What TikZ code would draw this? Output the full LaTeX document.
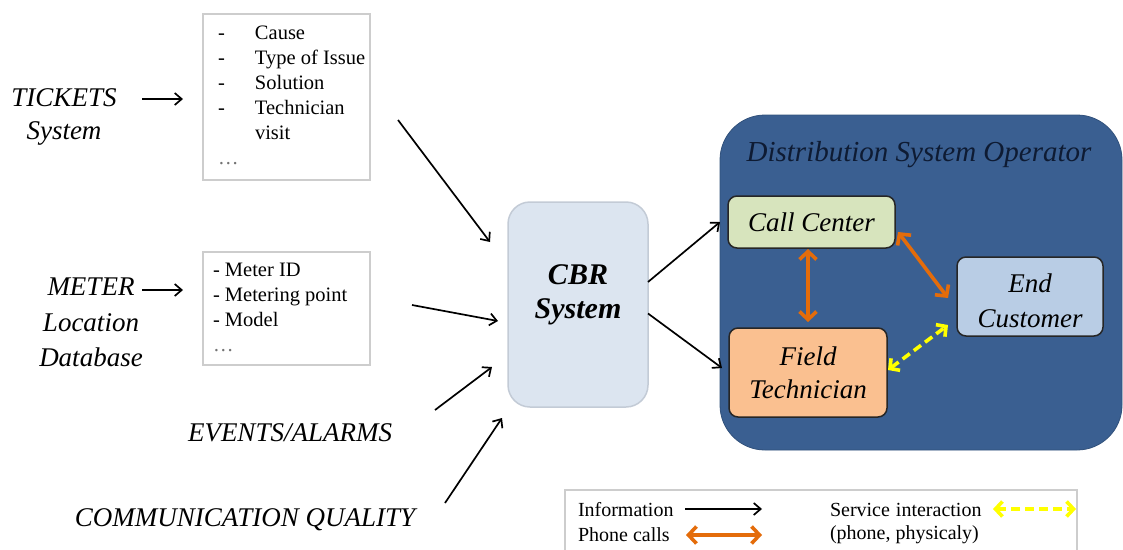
\documentclass[tikz,border=0pt]{standalone}
\usepackage{fontspec}
\setmainfont{Liberation Serif}
\usetikzlibrary{arrows.meta}

\definecolor{dsoblue}{HTML}{3A5F91}
\definecolor{dsotext}{HTML}{0E1B33}
\definecolor{cbrfill}{HTML}{DCE5F0}
\definecolor{cbrline}{HTML}{C3CBD6}
\definecolor{ccfill}{HTML}{D7E4BD}
\definecolor{ftfill}{HTML}{FAC090}
\definecolor{ecfill}{HTML}{B9CDE5}
\definecolor{phoneorange}{HTML}{E46C0A}
\definecolor{serviceyellow}{HTML}{FFFF00}
\definecolor{boxgray}{HTML}{CDCDCD}

\begin{document}
\begin{tikzpicture}[x=1pt,y=-1pt,
  every node/.style={inner sep=0pt, outer sep=0pt},
  listbox/.style={draw=boxgray, line width=2.2pt, fill=white, rectangle},
  listtext/.style={anchor=north west, font=\fontsize{20.5}{25}\selectfont},
  srclabel/.style={align=center, font=\fontsize{27}{33}\selectfont\itshape},
  info/.style={draw=black, line width=1.7pt, -{Straight Barb[length=7pt,width=12pt]}},
  phone/.style={draw=phoneorange, line width=3.6pt,
    {Straight Barb[length=8pt,width=17pt]}-{Straight Barb[length=8pt,width=17pt]}},
  service/.style={draw=serviceyellow, line width=3.6pt, dash pattern=on 9pt off 5pt,
    {Straight Barb[length=7pt,width=15pt]}-{Straight Barb[length=7pt,width=15pt]}},
  actor/.style={draw=black!85, line width=1.5pt, rounded corners=9pt, align=center,
    font=\fontsize{27}{33}\selectfont\itshape},
  legtext/.style={anchor=west, font=\fontsize{20}{25}\selectfont}
]
\useasboundingbox (0,0) rectangle (1123,549);

% ---- data sources -------------------------------------------------------
\node[srclabel] (tkt) at (64,116.5) {TICKETS\\System};
\node[srclabel, font=\fontsize{27}{35.5}\selectfont\itshape] (met) at (91,322.5) {METER\\Location\\Database};
\node[srclabel] (ev) at (290,433) {EVENTS/ALARMS};
\node[srclabel] (comm) at (245,520) {COMMUNICATION QUALITY};

% ---- attribute lists ----------------------------------------------------
\node[listbox, minimum width=167pt, minimum height=166pt] (tbox) at (286.5,97) {};
\node[listtext] (tlist) at (218,21.5) {\begin{tabular}{@{}p{37pt}@{}l@{}}
  - & Cause\\ - & Type of Issue\\ - & Solution\\ - & Technician\\ & visit\\
  \multicolumn{2}{@{}l}{\textcolor{black!55}{\dots}}\end{tabular}};

\node[listbox, minimum width=167pt, minimum height=113pt] (mbox) at (286.5,308.5) {};
\node[listtext] (mlist) at (213,259) {\begin{tabular}{@{}l@{}}
  - Meter ID\\ - Metering point\\ - Model\\ \textcolor{black!55}{\dots}\end{tabular}};

% ---- CBR system ---------------------------------------------------------
\node[draw=cbrline, fill=cbrfill, line width=1.5pt, rounded corners=22pt,
      minimum width=140pt, minimum height=205pt] (cbr) at (578,304.5) {};
\node[align=center, font=\fontsize{30}{34}\selectfont\bfseries\itshape] (cbrt) at (578,295) {CBR\\System};

% ---- distribution system operator --------------------------------------
\node[fill=dsoblue, draw=dsoblue!85!black, line width=0.8pt, rounded corners=45pt,
      minimum width=402pt, minimum height=335pt] (dso) at (921,282.5) {};
\node[text=dsotext, font=\fontsize{29}{33}\selectfont\itshape] (dsot) at (919,155) {Distribution System Operator};

\node[actor, fill=ccfill, minimum width=167pt, minimum height=52pt] (cc) at (811.5,222) {Call Center};
\node[actor, fill=ftfill, minimum width=158pt, minimum height=89pt] (ft) at (808,372.5) {Field\\Technician};
\node[actor, fill=ecfill, minimum width=146pt, minimum height=79pt] (ec) at (1030,296.5) {};
\node[align=center, font=\fontsize{27}{35}\selectfont\itshape] (ect) at (1030,301) {End\\Customer};

% ---- information flows --------------------------------------------------
\coordinate (tkout) at (142,99);
\coordinate (metout) at (142,290);
\coordinate (evout) at (435,410);
\coordinate (cmout) at (445,503);

\draw[info, shorten >=20pt] (tkout) -- (tkout -| tbox.west);
\draw[info, shorten >=20pt] (metout) -- (metout -| mbox.west);
\draw[info] ([shift={(28,23)}]tbox.east) -- ([shift={(-18,-62.5)}]cbr.west);
\draw[info] ([shift={(42,-3.5)}]mbox.east) -- ([shift={(-10,16.5)}]cbr.west);
\draw[info] (evout) -- ([shift={(-16,62.5)}]cbr.west);
\draw[info] (cmout) -- ([shift={(-6,113.5)}]cbr.west);

\draw[info] ([shift={(0,-22.5)}]cbr.east) -- ([shift={(-8,0)}]cc.west);
\draw[info] ([shift={(0,9)}]cbr.east) -- ([shift={(-7,-4.5)}]ft.west);

% ---- phone calls and service interaction -------------------------------
\draw[phone, shorten <=1pt, shorten >=6pt] (ft.north |- cc.south) -- (ft.north);
\draw[phone] ([shift={(3,10)}]cc.east) -- ([shift={(-9,1.5)}]ec.west);
\draw[service] ([shift={(1,-2.5)}]ft.east) -- ([shift={(-9,-11)}]ec.south west);

% ---- legend -------------------------------------------------------------
\node[draw=boxgray, line width=2.2pt, fill=white, minimum width=512pt, minimum height=80pt] (legend) at (821,530) {};
\node[legtext] (linfo) at (578,510) {Information};
\node[legtext] (lphone) at (578,535) {Phone calls};
\node[legtext] (lserv) at (830,510) {Service\hspace{6pt}interaction};
\node[legtext] (lserv2) at (830,535) {(phone, physicaly)};

\coordinate (li1) at (685,509);
\coordinate (li2) at (762,509);
\coordinate (lp1) at (686,535);
\coordinate (lp2) at (762,535);
\coordinate (ls1) at (993,509);
\coordinate (ls2) at (1076,509);
\draw[info] (li1) -- (li2);
\draw[phone] (lp1) -- (lp2);
\draw[service] (ls1) -- (ls2);
\end{tikzpicture}
\end{document}
